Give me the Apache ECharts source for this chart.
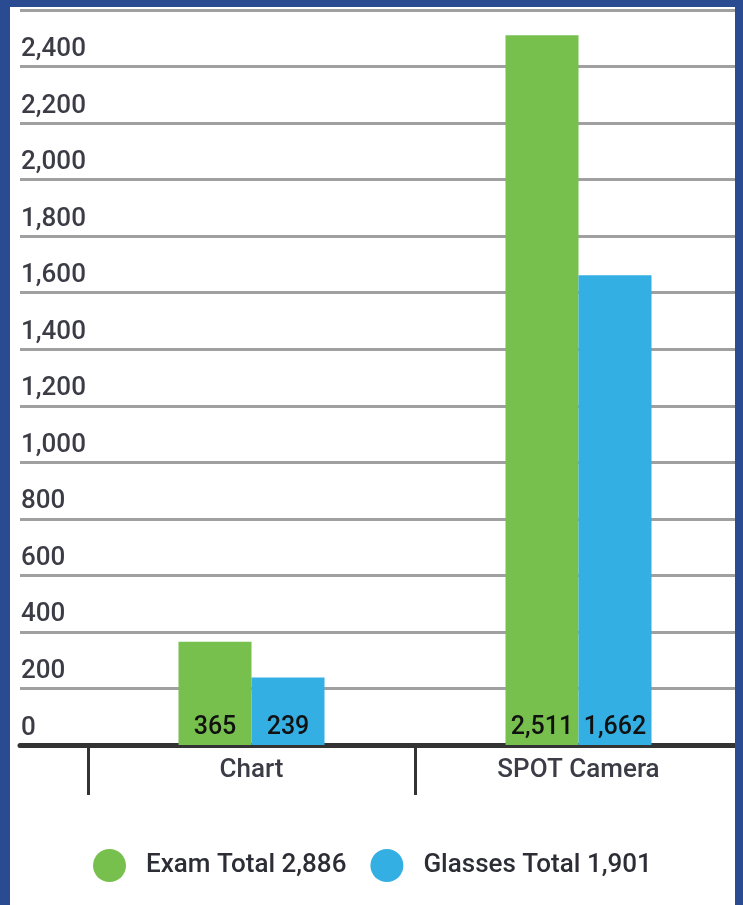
<!DOCTYPE html>
<html>
<head>
<meta charset="utf-8">
<script src="https://cdn.jsdelivr.net/npm/echarts@6/dist/echarts.min.js"></script>
<style>
  html, body { margin: 0; padding: 0; background: #2a4a92; width: 743px; height: 905px; overflow: hidden; }
  #chart { position: absolute; left: 10px; top: 7px; width: 733px; height: 898px; background: #ffffff; }
  #rb { position: absolute; left: 735px; top: 0; width: 8px; height: 905px; background: #2a4a92; }
</style>
</head>
<body>
<div id="chart"></div>
<div id="rb"></div>
<script>
const categories = ['Chart', 'SPOT Camera'];
const examValues = [365, 2511];
const glassesValues = [239, 1662];
const seriesNames = ['Exam Total 2,886', 'Glasses Total 1,901'];
const yMin = 0, yMax = 2600, yStep = 200;

const fmt = v => v.toLocaleString('en-US');
const chart = echarts.init(document.getElementById('chart'), null, { renderer: 'canvas' });

const labelStyle = {
  show: true, position: 'insideBottom', distance: 5,
  color: '#111111', fontFamily: 'Roboto', fontSize: 25, fontWeight: 500,
  formatter: p => fmt(p.value)
};

chart.setOption({
  animation: false,
  backgroundColor: '#ffffff',
  grid: [
    { left: 10, right: 8, top: 3, bottom: 160 },
    { left: 78, right: 1, top: 3, bottom: 160 }
  ],
  xAxis: [
    { type: 'category', gridIndex: 0, data: categories,
      axisLine: { show: true, lineStyle: { color: '#333333', width: 5 } },
      axisTick: { show: false }, axisLabel: { show: false }, splitLine: { show: false } },
    { type: 'category', gridIndex: 1, data: categories,
      axisLine: { show: false },
      axisTick: { show: true, length: 50, lineStyle: { color: '#333333', width: 3 } },
      axisLabel: { show: true, margin: 12, color: '#3c3c46', fontFamily: 'Roboto', fontSize: 26, fontWeight: 500 },
      splitLine: { show: false } }
  ],
  yAxis: [
    { type: 'value', gridIndex: 0, min: yMin, max: yMax, interval: yStep,
      axisLine: { show: false }, axisTick: { show: false },
      axisLabel: { show: true, inside: true, margin: 1, showMaxLabel: false,
        verticalAlign: 'bottom', lineHeight: 26, padding: [0, 0, 4, 0],
        color: '#3c3c46', fontFamily: 'Roboto', fontSize: 26, fontWeight: 500,
        formatter: v => fmt(v) },
      splitLine: { show: true, lineStyle: { color: '#a0a0a0', width: 3 } } },
    { type: 'value', gridIndex: 1, min: yMin, max: yMax, interval: yStep, show: false,
      splitLine: { show: false } }
  ],
  legend: {
    data: seriesNames,
    top: 837, left: 78,
    icon: 'circle', itemWidth: 33, itemHeight: 33, itemGap: 24,
    textStyle: { color: '#2d2d36', fontFamily: 'Roboto', fontSize: 26, fontWeight: 500, padding: [0, 0, 0, 15] }
  },
  series: [
    { name: seriesNames[0], type: 'bar', xAxisIndex: 1, yAxisIndex: 1, data: examValues,
      barWidth: 73, barGap: '0%', itemStyle: { color: '#77c04e' }, label: labelStyle },
    { name: seriesNames[1], type: 'bar', xAxisIndex: 1, yAxisIndex: 1, data: glassesValues,
      barWidth: 73, barGap: '0%', itemStyle: { color: '#33afe3' }, label: labelStyle }
  ]
});
</script>
</body>
</html>
